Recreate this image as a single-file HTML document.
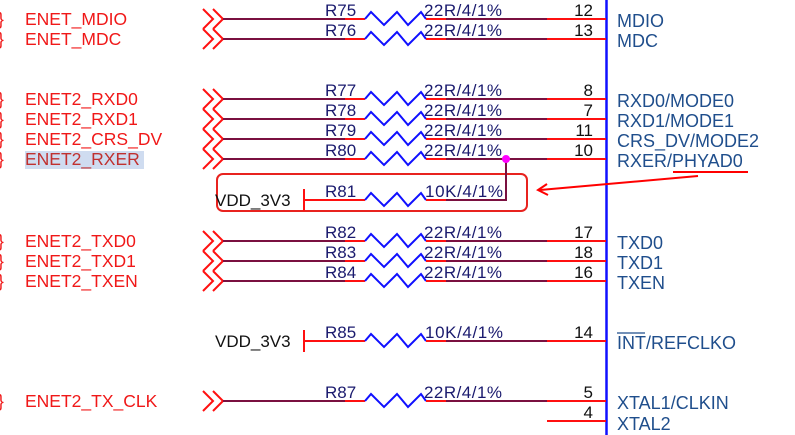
<!DOCTYPE html>
<html><head><meta charset="utf-8"><style>
html,body{margin:0;padding:0;background:#fff;}
svg{display:block;font-family:"Liberation Sans",Arial,sans-serif;}
.lbl{fill:#f01818;font-size:17.5px;}
.rn{fill:#1a1a6e;font-size:17px;}
.pn{fill:#111;font-size:17px;}
.pin{fill:#1f4e8c;font-size:18px;}
.vdd{fill:#111;font-size:17px;}
</style></head><body>
<svg width="795" height="435" viewBox="0 0 795 435" xmlns="http://www.w3.org/2000/svg">
<rect width="795" height="435" fill="#fff"/>
<line x1="606.5" y1="0" x2="606.5" y2="435" stroke="#1010ff" stroke-width="2.5"/>
<rect x="217" y="174" width="310" height="37" rx="6" fill="none" stroke="#e8231f" stroke-width="2"/>
<line x1="698" y1="176" x2="540" y2="190" stroke="#ff0000" stroke-width="2"/>
<polyline points="547,184 538,190 548,195" fill="none" stroke="#ff0000" stroke-width="2"/>
<line x1="673" y1="172" x2="748" y2="172" stroke="#ff0000" stroke-width="2"/>
</svg>
<script>
const svg=document.querySelector('svg');const NS='http://www.w3.org/2000/svg';
function el(t,a,txt){const e=document.createElementNS(NS,t);for(const k in a)e.setAttribute(k,a[k]);if(txt!==undefined)e.textContent=txt;svg.appendChild(e);return e;}
const rows=[
 [19,'ENET_MDIO','R75','22R/4/1%','12','MDIO'],
 [39,'ENET_MDC','R76','22R/4/1%','13','MDC'],
 [99,'ENET2_RXD0','R77','22R/4/1%','8','RXD0/MODE0'],
 [119,'ENET2_RXD1','R78','22R/4/1%','7','RXD1/MODE1'],
 [139,'ENET2_CRS_DV','R79','22R/4/1%','11','CRS_DV/MODE2'],
 [159,'ENET2_RXER','R80','22R/4/1%','10','RXER/PHYAD0'],
 [241,'ENET2_TXD0','R82','22R/4/1%','17','TXD0'],
 [261,'ENET2_TXD1','R83','22R/4/1%','18','TXD1'],
 [281,'ENET2_TXEN','R84','22R/4/1%','16','TXEN'],
 [401,'ENET2_TX_CLK','R87','22R/4/1%','5','XTAL1/CLKIN'],
];
function res(y,x0,x1){
 el('line',{x1:x0,y1:y,x2:345,y2:y,stroke:'#7a1040','stroke-width':2});
 el('line',{x1:345,y1:y,x2:365,y2:y,stroke:'#ff1010','stroke-width':2});
 el('polyline',{points:`365,${y} 371,${y-7} 384,${y+6} 397,${y-7} 408,${y+6} 421,${y-7} 426,${y}`,fill:'none',stroke:'#1010ff','stroke-width':2});
 el('line',{x1:426,y1:y,x2:446,y2:y,stroke:'#ff1010','stroke-width':2});
 el('line',{x1:446,y1:y,x2:x1||547,y2:y,stroke:'#7a1040','stroke-width':2});
}
function pinline(y){el('line',{x1:547,y1:y,x2:606,y2:y,stroke:'#ff1010','stroke-width':2});}
for(const [y,l,r,v,n,p] of rows){
 if(l==='ENET2_RXER') el('rect',{x:25,y:151,width:119,height:18,fill:'#cfdcf0'});
 el('text',{x:-2,y:y+6,class:'lbl'},'}');
 el('text',{x:25,y:y+6,class:'lbl',style:l==='ENET2_RXER'?'fill:#c0302f':''},l);
 el('polyline',{points:`203,${y-10} 213,${y} 203,${y+10}`,fill:'none',stroke:'#ff1010','stroke-width':2});
 el('polyline',{points:`213,${y-10} 223,${y} 213,${y+10}`,fill:'none',stroke:'#ff1010','stroke-width':2});
 res(y,223);pinline(y);
 el('text',{x:325,y:y-3,class:'rn'},r);
 el('text',{x:424,y:y-3,class:'rn',textLength:78},v);
 el('text',{x:593,y:y-3,class:'pn','text-anchor':'end'},n);
 el('text',{x:617,y:y+8,class:'pin'},p);
}
el('line',{x1:304,y1:189,x2:304,y2:211,stroke:'#ff1010','stroke-width':2});
el('line',{x1:304,y1:200,x2:345,y2:200,stroke:'#ff1010','stroke-width':2});
res(200,345,507);
el('line',{x1:506,y1:159,x2:506,y2:201,stroke:'#7a1040','stroke-width':2});
el('circle',{cx:506,cy:159,r:4,fill:'#ff00ff'});
el('text',{x:215,y:206,class:'vdd'},'VDD_3V3');
el('text',{x:325,y:197,class:'rn'},'R81');
el('text',{x:425,y:197,class:'rn',textLength:78},'10K/4/1%');
el('line',{x1:304,y1:330,x2:304,y2:352,stroke:'#ff1010','stroke-width':2});
el('line',{x1:304,y1:341,x2:345,y2:341,stroke:'#ff1010','stroke-width':2});
res(341,345);pinline(341);
el('text',{x:215,y:347,class:'vdd'},'VDD_3V3');
el('text',{x:325,y:338,class:'rn'},'R85');
el('text',{x:425,y:338,class:'rn',textLength:78},'10K/4/1%');
el('text',{x:593,y:338,class:'pn','text-anchor':'end'},'14');
el('text',{x:617,y:349,class:'pin'},'INT/REFCLKO');
el('line',{x1:617,y1:333,x2:645,y2:333,stroke:'#1f4e8c','stroke-width':1.3});
pinline(421);
el('text',{x:593,y:418,class:'pn','text-anchor':'end'},'4');
el('text',{x:617,y:430,class:'pin'},'XTAL2');
</script>
</body></html>
